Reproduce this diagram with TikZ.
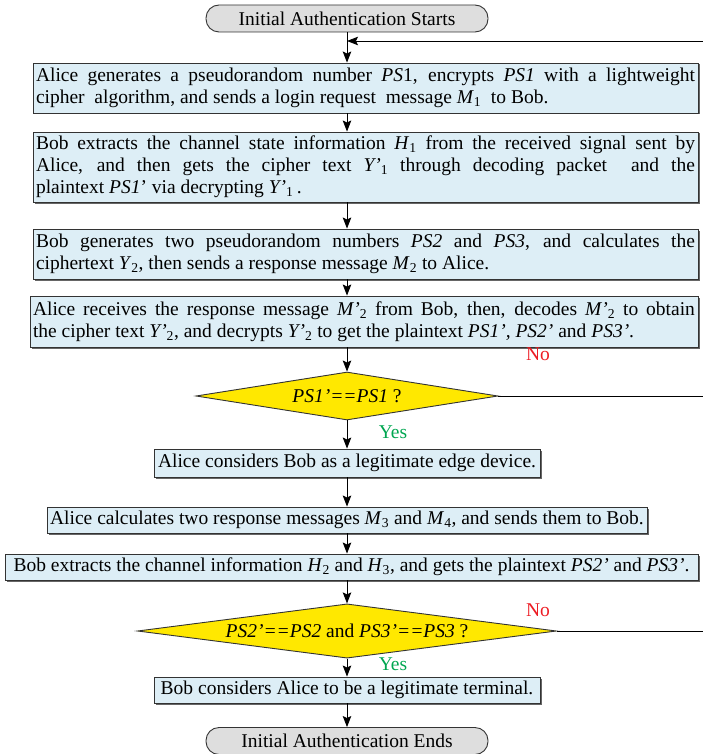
\documentclass[tikz,border=0pt]{standalone}
\usepackage{fontspec}
\setmainfont{Liberation Serif}
\usetikzlibrary{arrows.meta,shapes.geometric,shadows}
\tikzset{>={Stealth[length=11pt,width=8.5pt,inset=2pt]}}

\definecolor{procblue}{RGB}{221,238,246}
\definecolor{testyellow}{RGB}{255,232,0}
\definecolor{termgray}{RGB}{222,222,222}
\definecolor{yesgreen}{RGB}{0,166,80}
\definecolor{nored}{RGB}{237,28,36}

\tikzset{
  base/.style={font=\fontsize{19.5}{22}\selectfont, draw=black!80, line width=0.9pt},
  proc/.style={base, fill=procblue, inner sep=3pt,
    drop shadow={shadow xshift=1.5pt, shadow yshift=-1.5pt, fill=black!60, opacity=1}},
  wide/.style={proc, text width=#1, align=justify},
  term/.style={base, fill=termgray, rounded corners=13pt, minimum width=282pt, minimum height=27pt, inner sep=1pt},
  test/.style={base, fill=testyellow, diamond, inner sep=0pt, aspect=6},
  yes/.style={font=\fontsize{19.5}{20}\selectfont, text=yesgreen},
  no/.style={font=\fontsize{19.5}{20}\selectfont, text=nored},
}

\newcommand{\msg}[2]{\textit{#1}\textsubscript{#2}}

\begin{document}
\begin{tikzpicture}[x=1pt,y=-1pt]
\useasboundingbox (0,0) rectangle (703,754);

\node[term] (start) at (347,18.5) {Initial Authentication Starts};

\node[wide=659pt, minimum height=50pt] (alice1) at (365.5,88)
  {Alice generates a pseudorandom number \textit{PS}1, encrypts \textit{PS1} with a lightweight\linebreak
   cipher\ \ algorithm, and sends a login request\ \ message \msg{M}{1}\ \ to Bob.};
\node[wide=659pt, minimum height=70pt] (bob1) at (365.5,167)
  {Bob extracts the channel state information \msg{H}{1} from the received signal sent by\linebreak
   Alice, and then gets the cipher text \msg{Y’}{1} through decoding packet\ \ and the\linebreak
   plaintext \textit{PS1}’ via decrypting \msg{Y’}{1}\,.};
\node[wide=659pt, minimum height=50pt] (bob2) at (365.5,254)
  {Bob generates two pseudorandom numbers \textit{PS2} and \textit{PS3}, and calculates the\linebreak
   ciphertext \msg{Y}{2}, then sends a response message \msg{M}{2} to Alice.};
\node[wide=662pt, minimum height=51pt] (alice2) at (364,321.5)
  {Alice receives the response message \msg{M’}{2} from Bob, then, decodes \msg{M’}{2} to obtain\linebreak
   the cipher text \msg{Y’}{2}, and decrypts \msg{Y’}{2} to get the plaintext \textit{PS1’, PS2’} and \textit{PS3’}.};

\node[test, minimum width=302pt, minimum height=48pt] (chk1) at (347,396) {\textit{PS1’==PS1} ?};

\node[proc, minimum width=386pt, minimum height=28pt] (alice3) at (347,463)
  {Alice considers Bob as a legitimate edge device.};
\node[proc, minimum width=600pt, minimum height=26pt] (alice4) at (347,520)
  {Alice calculates two response messages \msg{M}{3} and \msg{M}{4}, and sends them to Bob.};
\node[proc, minimum width=693pt, minimum height=26pt] (bob3) at (351.5,567)
  {Bob extracts the channel information \msg{H}{2} and \msg{H}{3}, and gets the plaintext \textit{PS2’} and \textit{PS3’}.};

\node[test, minimum width=419pt, minimum height=48pt] (chk2) at (347,631)
  {\textit{PS2’==PS2} and \textit{PS3’==PS3} ?};

\node[proc, minimum width=386pt, minimum height=26pt] (bob4) at (347,690)
  {Bob considers Alice to be a legitimate terminal.};
\node[term] (stop) at (347,741) {Initial Authentication Ends};

% main flow, top to bottom
\foreach \a/\b in {start/alice1, alice1/bob1, bob1/bob2, bob2/alice2, alice2/chk1,
                   chk1/alice3, alice3/alice4, alice4/bob3, bob3/chk2, chk2/bob4, bob4/stop}
  \draw[->, line width=0.9pt] (\a.south -| start.south) -- (\b.north -| start.south);

% failed checks go back to the top
\coordinate (back) at (703,41);
\coordinate (out1) at (703,396);
\coordinate (out2) at (703,631);
\draw[line width=0.9pt] (chk1.east) -- (out1);
\draw[line width=0.9pt] (chk2.east) -- (out2);
\draw[->, line width=0.9pt] (back) -- (back -| start.south);

\node[no] (no1) at (538,354) {No};
\node[yes] (yes1) at (393,432) {Yes};
\node[no] (no2) at (538,610) {No};
\node[yes] (yes2) at (393,664) {Yes};
\end{tikzpicture}
\end{document}
